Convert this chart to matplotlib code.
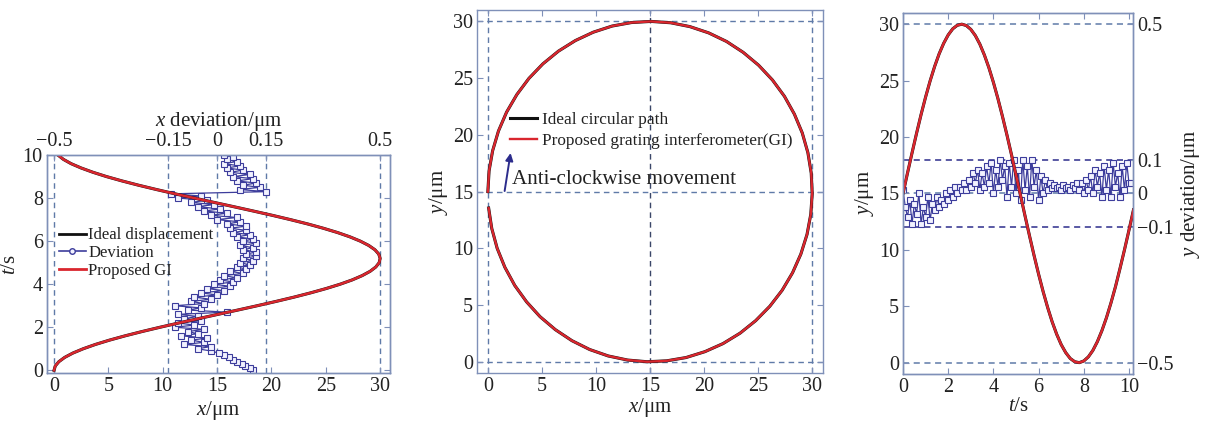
import matplotlib

matplotlib.use("Agg")
import matplotlib.pyplot as plt
from matplotlib.lines import Line2D

# ideal / measured stage trajectory, sampled every 0.2 s
T_CURVE = [0.0, 0.2, 0.4, 0.6, 0.8, 1.0, 1.2, 1.4, 1.6, 1.8, 2.0, 2.2, 2.4, 2.6,
           2.8, 3.0, 3.2, 3.4, 3.6, 3.8, 4.0, 4.2, 4.4, 4.6, 4.8, 5.0, 5.2, 5.4,
           5.6, 5.8, 6.0, 6.2, 6.4, 6.6, 6.8, 7.0, 7.2, 7.4, 7.6, 7.8, 8.0, 8.2,
           8.4, 8.6, 8.8, 9.0, 9.2, 9.4, 9.6, 9.8, 10.0, 10.2]
X_IDEAL = [0.00, 0.11, 0.44, 0.98, 1.73, 2.68, 3.80, 5.09, 6.53, 8.09, 9.75, 11.49,
           13.28, 15.09, 16.91, 18.69, 20.42, 22.08, 23.62, 25.04, 26.32, 27.43,
           28.35, 29.08, 29.60, 29.91, 30.00, 29.87, 29.52, 28.95, 28.18, 27.22,
           26.08, 24.77, 23.33, 21.75, 20.08, 18.33, 16.54, 14.73, 12.92, 11.13,
           9.41, 7.77, 6.24, 4.83, 3.58, 2.49, 1.57, 0.86, 0.36, 0.07]
Y_IDEAL = [15.00, 16.82, 18.60, 20.34, 22.00, 23.55, 24.98, 26.26, 27.38, 28.31,
           29.05, 29.59, 29.90, 30.00, 29.88, 29.54, 28.99, 28.23, 27.27, 26.14,
           24.84, 23.40, 21.83, 20.17, 18.43, 16.63, 14.82, 13.00, 11.22, 9.49,
           7.84, 6.30, 4.89, 3.62, 2.52, 1.60, 0.89, 0.37, 0.08, 0.00, 0.15, 0.51,
           1.08, 1.86, 2.83, 3.97, 5.28, 6.72, 8.33, 10.00, 11.75, 13.55]

# x deviation (um), every 0.1 s
T_DEV_X = [0.0, 0.1, 0.2, 0.3, 0.4, 0.5, 0.6, 0.7, 0.8, 0.9,
           1.0, 1.1, 1.2, 1.3, 1.4, 1.5, 1.6, 1.7, 1.8, 1.9,
           2.0, 2.1, 2.2, 2.3, 2.4, 2.5, 2.6, 2.7, 2.8, 2.9,
           3.0, 3.1, 3.2, 3.3, 3.4, 3.5, 3.6, 3.7, 3.8, 3.9,
           4.0, 4.1, 4.2, 4.3, 4.4, 4.5, 4.6, 4.7, 4.8, 4.9,
           5.0, 5.1, 5.2, 5.3, 5.4, 5.5, 5.6, 5.7, 5.8, 5.9,
           6.0, 6.1, 6.2, 6.3, 6.4, 6.5, 6.6, 6.7, 6.8, 6.9,
           7.0, 7.1, 7.2, 7.3, 7.4, 7.5, 7.6, 7.7, 7.8, 7.9,
           8.0, 8.1, 8.2, 8.3, 8.4, 8.5, 8.6, 8.7, 8.8, 8.9,
           9.0, 9.1, 9.2, 9.3, 9.4, 9.5, 9.6, 9.7, 9.8, 9.9,
           10.0]
DEV_X = [0.11, 0.10, 0.085, 0.075, 0.06, 0.05, 0.035, 0.02, 0.005, -0.02,
         -0.06, -0.02, -0.10, -0.04, -0.08, -0.03, -0.11, -0.06, -0.09, -0.04,
         -0.13, -0.07, -0.12, -0.05, -0.10, -0.06, -0.12, 0.03, -0.09, -0.05,
         -0.13, -0.04, -0.08, -0.02, -0.07, 0.00, -0.05, 0.02, -0.03, 0.04,
         -0.01, 0.05, 0.01, 0.06, 0.02, 0.08, 0.04, 0.09, 0.06, 0.10,
         0.07, 0.11, 0.08, 0.12, 0.09, 0.12, 0.08, 0.11, 0.07, 0.12,
         0.08, 0.11, 0.06, 0.10, 0.05, 0.09, 0.04, 0.09, 0.03, 0.07,
         0.00, 0.06, -0.02, 0.03, -0.04, 0.01, -0.06, -0.01, -0.08, -0.03,
         -0.12, -0.05, -0.14, 0.15, 0.07, 0.13, 0.08, 0.12, 0.06, 0.11,
         0.05, 0.10, 0.04, 0.08, 0.03, 0.07, 0.02, 0.06, 0.03, 0.05,
         0.02]

# y deviation (um), every 0.1 s
T_DEV_Y = T_DEV_X + [10.1]
DEV_Y = [0.01, -0.04, -0.07, -0.02, -0.09, -0.03, -0.06, 0.00, -0.09, -0.04,
         -0.07, -0.01, -0.08, -0.03, -0.05, -0.01, -0.04, -0.02, -0.03, 0.00,
         -0.02, 0.01, -0.01, 0.02, 0.00, 0.02, 0.01, 0.03, 0.01, 0.04,
         0.02, 0.06, 0.03, 0.07, 0.01, 0.06, 0.02, 0.08, 0.03, 0.09,
         0.00, 0.07, 0.02, 0.10, 0.04, 0.08, -0.01, 0.09, 0.02, 0.10,
         0.00, 0.07, -0.02, 0.10, 0.01, 0.08, -0.01, 0.10, 0.02, 0.07,
         -0.02, 0.05, 0.00, 0.04, 0.01, 0.03, 0.015, 0.025, 0.015, 0.02,
         0.01, 0.025, 0.015, 0.02, 0.01, 0.025, 0.015, 0.03, 0.01, 0.03,
         0.00, 0.04, 0.01, 0.05, 0.00, 0.07, 0.02, 0.06, -0.01, 0.08,
         0.01, 0.07, -0.01, 0.09, 0.02, 0.06, -0.01, 0.08, 0.01, 0.09,
         0.03, 0.03]

X_DEV_TICKS = [-0.5, -0.15, 0, 0.15, 0.5]
Y_DEV_TICKS = [-0.5, -0.1, 0, 0.1, 0.5]

RED = "#d9262e"
BLACK = "#111111"
DEVC = "#3d3d9c"
SPINE = "#7f90b8"
DASH = "#5f7aa8"
NAVY = "#2c2c8c"
TXT = "#222222"

plt.rcParams.update({
    "font.family": "Liberation Serif",
    "mathtext.fontset": "custom",
    "mathtext.rm": "Liberation Serif",
    "mathtext.it": "Liberation Serif:italic",
    "font.size": 14,
    "text.color": TXT,
    "axes.labelcolor": TXT,
    "xtick.color": SPINE,
    "ytick.color": SPINE,
    "xtick.labelcolor": TXT,
    "ytick.labelcolor": TXT,
    "xtick.direction": "in",
    "ytick.direction": "in",
    "xtick.labelsize": 14.5,
    "ytick.labelsize": 14.5,
})


def style(ax):
    for sp in ax.spines.values():
        sp.set_color(SPINE)
        sp.set_linewidth(1.0)
    ax.tick_params(length=4, width=0.8, pad=3)


def dev_lim(lo, hi):
    return (lo - 15) / 30, (hi - 15) / 30


fig = plt.figure(figsize=(12.05, 4.23), dpi=100)

# ---------------- left: x displacement vs time ----------------
ax1 = fig.add_axes([0.039, 0.118, 0.2846, 0.5154])
ax1t = ax1.twiny()
XL = (-0.65, 30.9)
ax1.set_xlim(*XL)
ax1.set_ylim(-0.13, 10.0)
ax1t.set_xlim(*dev_lim(*XL))
for d in X_DEV_TICKS:
    ax1t.axvline(d, color=DASH, ls=(0, (4, 3)), lw=1.0, zorder=0)
ax1t.plot(DEV_X, T_DEV_X, color=DEVC, lw=0.9, marker="s", ms=4.2,
          mfc="#f2f2ff", mec=DEVC, mew=0.8)
ax1.plot(X_IDEAL, T_CURVE, color=BLACK, lw=2.2)
ax1.plot(X_IDEAL, T_CURVE, color=RED, lw=1.8)
ax1.set_zorder(ax1t.get_zorder() + 1)
ax1.patch.set_visible(False)
ax1.set_xticks([0, 5, 10, 15, 20, 25, 30])
ax1.set_yticks([0, 2, 4, 6, 8, 10])
ax1.tick_params(axis="y", right=True)
ax1t.set_xticks(X_DEV_TICKS)
ax1t.set_xticklabels(["\u22120.5", "\u22120.15", "0", "0.15", "0.5"])
ax1.set_xlabel("$x$/\u03bcm", fontsize=15, labelpad=2)
ax1.set_ylabel("$t$/s", fontsize=15, labelpad=2)
ax1t.set_xlabel("$x$ deviation/\u03bcm", fontsize=15, labelpad=4)
style(ax1)
style(ax1t)
handles = [Line2D([0], [0], color=BLACK, lw=2),
           Line2D([0], [0], color=DEVC, lw=1.2, marker="o", ms=4, mfc="#f2f2ff", mec=DEVC),
           Line2D([0], [0], color=RED, lw=2)]
ax1.legend(handles, ["Ideal displacement", "Deviation", "Proposed GI"],
           loc="upper left", bbox_to_anchor=(0.035, 0.668), frameon=False,
           fontsize=12, handlelength=1.6, handletextpad=0.15,
           labelspacing=0.1, borderpad=0, borderaxespad=0)

# ---------------- middle: circular path ----------------
ax2 = fig.add_axes([0.3959, 0.118, 0.2871, 0.8582])
ax2.set_xlim(-1, 31)
ax2.set_ylim(-1, 31)
for v in [0, 15, 30]:
    ax2.axvline(v, color="#3a4668" if v == 15 else DASH, ls=(0, (4, 3)), lw=1.0, zorder=0)
    ax2.axhline(v, color=DASH, ls=(0, (4, 3)), lw=1.0, zorder=0)
ax2.plot(X_IDEAL, Y_IDEAL, color=BLACK, lw=2.2, label="Ideal circular path")
ax2.plot(X_IDEAL, Y_IDEAL, color=RED, lw=1.7, label="Proposed grating interferometer(GI)")
ax2.set_xticks([0, 5, 10, 15, 20, 25, 30])
ax2.set_yticks([0, 5, 10, 15, 20, 25, 30])
ax2.tick_params(top=True, right=True)
ax2.set_xlabel("$x$/\u03bcm", fontsize=15, labelpad=0)
ax2.set_ylabel("$y$/\u03bcm", fontsize=15, labelpad=2)
style(ax2)
ax2.legend(loc="upper left", bbox_to_anchor=(0.095, 0.718), frameon=False,
           fontsize=12.4, handlelength=1.55, handletextpad=0.3,
           labelspacing=0.25, borderpad=0, borderaxespad=0)
ax2.annotate("", xy=(2.1, 18.4), xytext=(1.55, 15.05),
             arrowprops={"arrowstyle": "-|>", "color": NAVY, "lw": 1.4,
                         "mutation_scale": 11, "shrinkA": 0, "shrinkB": 0})
ax2.text(2.25, 16.1, "Anti-clockwise movement", fontsize=15.2, ha="left", va="center")

# ---------------- right: y displacement vs time ----------------
ax3 = fig.add_axes([0.7494, 0.116, 0.1909, 0.8535])
ax3r = ax3.twinx()
YL = (-1, 31)
ax3.set_xlim(0, 10.18)
ax3.set_ylim(*YL)
ax3r.set_ylim(*dev_lim(*YL))
for d in Y_DEV_TICKS:
    c = NAVY if abs(d) == 0.1 else DASH
    ax3r.axhline(d, color=c, ls=(0, (4, 3)), lw=1.1, zorder=0)
ax3r.plot(T_DEV_Y, DEV_Y, color=DEVC, lw=0.9, marker="s", ms=4.2,
          mfc="#f2f2ff", mec=DEVC, mew=0.8)
ax3.plot(T_CURVE, Y_IDEAL, color=BLACK, lw=2.2)
ax3.plot(T_CURVE, Y_IDEAL, color=RED, lw=1.8)
ax3.set_zorder(ax3r.get_zorder() + 1)
ax3.patch.set_visible(False)
ax3.set_xticks([0, 2, 4, 6, 8, 10])
ax3.set_yticks([0, 5, 10, 15, 20, 25, 30])
ax3.tick_params(axis="x", top=True)
ax3r.set_yticks(Y_DEV_TICKS)
ax3r.set_yticklabels(["\u22120.5", "\u22120.1", "0", "0.1", "0.5"])
ax3.set_xlabel("$t$/s", fontsize=15, labelpad=0)
ax3.set_ylabel("$y$/\u03bcm", fontsize=15, labelpad=2)
ax3r.set_ylabel("$y$ deviation/\u03bcm", fontsize=15, labelpad=4)
style(ax3)
style(ax3r)

fig.savefig("out.png", dpi=100)
